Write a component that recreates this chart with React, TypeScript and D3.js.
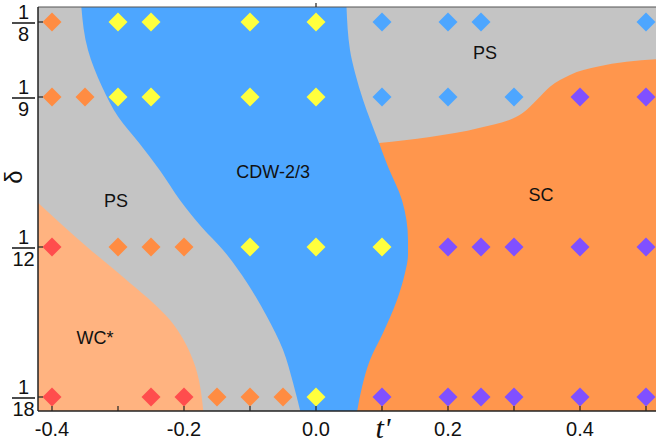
import * as d3 from 'd3';
import React, { useEffect, useRef } from 'react';

// doping rows (delta) and the t' values computed at each row
const deltaRows = [1 / 8, 1 / 9, 1 / 12, 1 / 18];
const deltaLabels = [['1', '8'], ['1', '9'], ['1', '12'], ['1', '18']];
const tPoints = [
  [-0.4, -0.3, -0.25, -0.1, 0, 0.1, 0.2, 0.25, 0.5],
  [-0.4, -0.35, -0.3, -0.25, -0.1, 0, 0.1, 0.2, 0.3, 0.4, 0.5],
  [-0.4, -0.3, -0.25, -0.2, -0.1, 0, 0.1, 0.2, 0.25, 0.3, 0.4, 0.5],
  [-0.4, -0.25, -0.2, -0.15, -0.1, -0.05, 0, 0.1, 0.2, 0.25, 0.3, 0.4, 0.5],
];
const phases = [
  ['ps', 'cdw', 'cdw', 'cdw', 'cdw', 'psb', 'psb', 'psb', 'psb'],
  ['ps', 'ps', 'cdw', 'cdw', 'cdw', 'cdw', 'psb', 'psb', 'psb', 'sc', 'sc'],
  ['wc', 'ps', 'ps', 'ps', 'cdw', 'cdw', 'cdw', 'sc', 'sc', 'sc', 'sc', 'sc'],
  ['wc', 'wc', 'wc', 'ps', 'ps', 'ps', 'cdw', 'sc', 'sc', 'sc', 'sc', 'sc', 'sc'],
];
const xTicks = [-0.4, -0.3, -0.2, -0.1, 0, 0.1, 0.2, 0.3, 0.4, 0.5];
const xTickLabels = [-0.4, -0.2, 0, 0.2, 0.4];

// phase boundaries, [t', delta]
const cdwLeft: [number, number][] = [
  [-0.356, 0.1285], [-0.3455, 0.1198], [-0.3242, 0.1130], [-0.2995, 0.1074], [-0.2680, 0.1026],
  [-0.2364, 0.0975], [-0.2060, 0.0920], [-0.1730, 0.0870], [-0.1409, 0.0828], [-0.1045, 0.0767],
  [-0.0742, 0.0704], [-0.05, 0.0643], [-0.0348, 0.0582], [-0.022, 0.052],
];
const cdwRight: [number, number][] = [
  [0.046, 0.1285], [0.0515, 0.1198], [0.0591, 0.1156], [0.0712, 0.1106], [0.0955, 0.1026],
  [0.1091, 0.0982], [0.1303, 0.0920], [0.1394, 0.0846], [0.1394, 0.0819], [0.1348, 0.0785],
  [0.1227, 0.0735], [0.1015, 0.0674], [0.0818, 0.0624], [0.0697, 0.0574], [0.061, 0.052],
];
const scTop: [number, number][] = [
  [0.0955, 0.1026], [0.1727, 0.1037], [0.2485, 0.1054], [0.3136, 0.1082], [0.3348, 0.1106],
  [0.3545, 0.1130], [0.3848, 0.1152], [0.4258, 0.1167], [0.53, 0.1182],
];
const wcEdge: [number, number][] = [
  [-0.43, 0.0925], [-0.3455, 0.0832], [-0.2924, 0.0778], [-0.2212, 0.0698],
  [-0.1864, 0.0624], [-0.17, 0.052],
];

const regionLabels = [
  { text: 'PS', t: -0.303, d: 0.0920 },
  { text: 'CDW-2/3', t: -0.065, d: 0.0972 },
  { text: 'PS', t: 0.256, d: 0.1193 },
  { text: 'SC', t: 0.341, d: 0.0930 },
  { text: 'WC*', t: -0.335, d: 0.0665 },
];

const markerColor: Record<string, string> = {
  wc: '#ff4d4d',
  ps: '#ff8c42',
  cdw: '#ffff3d',
  psb: '#4da6ff',
  sc: '#8050ff',
};

function PhaseDiagram() {
  const ref = useRef<SVGSVGElement>(null);

  useEffect(() => {
    const W = 656, H = 445;
    const left = 38, right = 656, top = 7, bottom = 411;
    const font = 'Liberation Sans, Arial, sans-serif';

    const x = d3.scaleLinear().domain([-0.4, 0.4]).range([52, 580]);
    const y = d3.scaleLinear().domain([1 / 8, 1 / 18]).range([22, 397]);

    const svg = d3.select(ref.current);
    svg.selectAll('*').remove();
    svg.attr('width', W).attr('height', H);

    svg.append('defs').append('clipPath').attr('id', 'plotclip')
      .append('rect')
      .attr('x', left).attr('y', top)
      .attr('width', right - left).attr('height', bottom - top);

    const plot = svg.append('g').attr('clip-path', 'url(#plotclip)');

    // boundaries running top->bottom are monotone in y, the SC/PS one in x
    const lineY = d3.line<[number, number]>()
      .x(d => x(d[0]))
      .y(d => y(d[1]))
      .curve(d3.curveMonotoneY);
    const lineX = d3.line<[number, number]>()
      .x(d => x(d[0]))
      .y(d => y(d[1]))
      .curve(d3.curveMonotoneX);

    // PS background
    plot.append('rect')
      .attr('x', left).attr('y', top)
      .attr('width', right - left).attr('height', bottom - top)
      .attr('fill', '#c4c4c4');

    // SC
    const scPath = lineX(scTop) + 'L' + x(0.53) + ',' + y(0.05) + 'L' + x(0.0) + ',' + y(0.05)
      + 'L' + x(0.0) + ',' + y(0.1026) + 'Z';
    plot.append('path').attr('d', scPath).attr('fill', '#ff964d');

    // CDW-2/3
    const rightRev = cdwRight.slice().reverse();
    const cdwPath = lineY(cdwLeft) + 'L' + (lineY(rightRev) as string).slice(1) + 'Z';
    plot.append('path').attr('d', cdwPath).attr('fill', '#4da6ff');

    // WC*
    const wcPath = lineY(wcEdge) + 'L' + x(-0.43) + ',' + y(0.05) + 'Z';
    plot.append('path').attr('d', wcPath).attr('fill', '#ffb380');

    // axes frame
    svg.append('line')
      .attr('x1', left).attr('x2', right).attr('y1', top).attr('y2', top)
      .attr('stroke', '#555').attr('stroke-width', 1.2);
    svg.append('line')
      .attr('x1', x(0)).attr('x2', x(0)).attr('y1', top).attr('y2', top - 4)
      .attr('stroke', '#222').attr('stroke-width', 1.2);
    svg.append('line')
      .attr('x1', left).attr('x2', right).attr('y1', bottom).attr('y2', bottom)
      .attr('stroke', '#222').attr('stroke-width', 1.5);
    svg.append('line')
      .attr('x1', left).attr('x2', left).attr('y1', top).attr('y2', bottom)
      .attr('stroke', '#222').attr('stroke-width', 1.5);

    // ticks
    svg.selectAll('.xtick').data(xTicks).enter().append('line')
      .attr('x1', d => x(d)).attr('x2', d => x(d))
      .attr('y1', bottom).attr('y2', bottom - 5)
      .attr('stroke', '#222').attr('stroke-width', 1.2);
    svg.selectAll('.ytick').data(deltaRows).enter().append('line')
      .attr('x1', left).attr('x2', left + 5)
      .attr('y1', d => y(d)).attr('y2', d => y(d))
      .attr('stroke', '#222').attr('stroke-width', 1.2);

    // markers
    const diamond = d3.symbol().type(d3.symbolSquare).size(180)();
    deltaRows.forEach((dv, i) => {
      plot.selectAll('.m' + i)
        .data(tPoints[i].map((t, j) => ({ t, p: phases[i][j] })))
        .enter().append('path')
        .attr('d', diamond)
        .attr('transform', d => 'translate(' + x(d.t) + ',' + y(dv) + ') rotate(45)')
        .attr('fill', d => markerColor[d.p]);
    });

    // region labels
    svg.selectAll('.rl').data(regionLabels).enter().append('text')
      .attr('x', d => x(d.t)).attr('y', d => y(d.d))
      .attr('dy', '0.35em')
      .attr('text-anchor', 'middle')
      .attr('font-family', font).attr('font-size', 18)
      .attr('fill', '#111')
      .text(d => d.text);

    // x tick labels
    svg.selectAll('.xl').data(xTickLabels).enter().append('text')
      .attr('x', d => x(d)).attr('y', 436)
      .attr('text-anchor', 'middle')
      .attr('font-family', font).attr('font-size', 20)
      .attr('fill', '#111')
      .text(d => d.toFixed(1));

    // fractional delta labels
    const fx = 23.5;
    deltaRows.forEach((dv, i) => {
      const yy = y(dv);
      const g = svg.append('g');
      g.append('text').attr('x', fx).attr('y', yy - 3)
        .attr('text-anchor', 'middle').attr('font-family', font).attr('font-size', 20)
        .attr('fill', '#111').text(deltaLabels[i][0]);
      g.append('line').attr('x1', 12).attr('x2', 35).attr('y1', yy + 1).attr('y2', yy + 1)
        .attr('stroke', '#111').attr('stroke-width', 1.5);
      g.append('text').attr('x', fx).attr('y', yy + 19)
        .attr('text-anchor', 'middle').attr('font-family', font).attr('font-size', 20)
        .attr('fill', '#111').text(deltaLabels[i][1]);
    });

    // axis titles
    svg.append('text')
      .attr('transform', 'translate(22,177) rotate(-90)')
      .attr('text-anchor', 'middle')
      .attr('font-family', font).attr('font-size', 24)
      .attr('fill', '#111')
      .text('δ');
    svg.append('text')
      .attr('x', 383).attr('y', 438)
      .attr('text-anchor', 'middle')
      .attr('font-family', 'Liberation Serif, Times New Roman, serif')
      .attr('font-style', 'italic')
      .attr('font-size', 30)
      .attr('fill', '#111')
      .text("t'");
  }, []);

  return (
    <div className="chartContainer" style={{ position: 'absolute', left: 0, top: 0 }}>
      <svg ref={ref} style={{ display: 'block' }}></svg>
    </div>
  );
}

export default function App() {
  return <PhaseDiagram />;
}
